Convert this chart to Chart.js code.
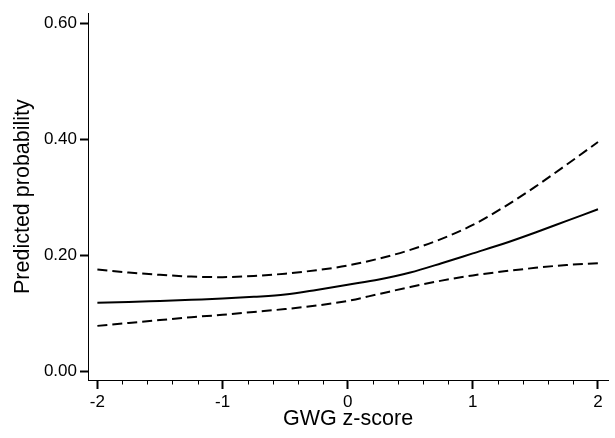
<!DOCTYPE html>
<html>
<head>
<meta charset="utf-8">
<script src="https://cdn.jsdelivr.net/npm/chart.js@4/dist/chart.umd.min.js"></script>
<style>
  html, body { margin: 0; padding: 0; background: #fff; }
  #wrap { width: 615px; height: 438px; }
</style>
</head>
<body>
<div id="wrap"><canvas id="c" width="615" height="438"></canvas></div>
<script>
// Data
const zScores   = [-2, -1.75, -1.5, -1.25, -1, -0.75, -0.5, -0.25, 0, 0.25, 0.5, 0.75, 1, 1.25, 1.5, 1.75, 2];
const predicted = [0.118, 0.119, 0.121, 0.123, 0.125, 0.128, 0.132, 0.140, 0.149, 0.158, 0.170, 0.186, 0.203, 0.220, 0.239, 0.259, 0.279];
const upperCI   = [0.175, 0.170, 0.166, 0.163, 0.162, 0.164, 0.168, 0.174, 0.182, 0.194, 0.209, 0.228, 0.252, 0.283, 0.318, 0.356, 0.395];
const lowerCI   = [0.078, 0.083, 0.088, 0.093, 0.097, 0.102, 0.107, 0.113, 0.121, 0.133, 0.145, 0.156, 0.165, 0.172, 0.178, 0.183, 0.186];
const xTicks = [-2, -1, 0, 1, 2];
const xMinorTicks = [-1.8, -1.6, -1.4, -1.2, -0.8, -0.6, -0.4, -0.2, 0.2, 0.4, 0.6, 0.8, 1.2, 1.4, 1.6, 1.8];
const yTicks = [0, 0.2, 0.4, 0.6];
const xTitle = 'GWG z-score';
const yTitle = 'Predicted probability';

const toPts = arr => zScores.map((x, i) => ({x: x, y: arr[i]}));
const FONT = '"Liberation Sans", Arial, sans-serif';

const minorTicks = {
  id: 'minorTicks',
  afterDraw(chart) {
    const xs = chart.scales.x;
    const ctx = chart.ctx;
    const y0 = chart.chartArea.bottom;
    ctx.save();
    ctx.strokeStyle = '#000';
    ctx.lineWidth = 1;
    xMinorTicks.forEach(v => {
      const px = Math.round(xs.getPixelForValue(v)) + 0.5;
      ctx.beginPath();
      ctx.moveTo(px, y0);
      ctx.lineTo(px, y0 + 4.5);
      ctx.stroke();
    });
    ctx.restore();
  }
};

const lineStyle = (dashed) => ({
  borderColor: '#000', borderWidth: 2, borderDash: dashed ? [10, 5] : [],
  pointRadius: 0, cubicInterpolationMode: 'monotone', fill: false
});

new Chart(document.getElementById('c'), {
  type: 'line',
  data: {
    datasets: [
      Object.assign({ data: toPts(upperCI) }, lineStyle(true)),
      Object.assign({ data: toPts(predicted) }, lineStyle(false)),
      Object.assign({ data: toPts(lowerCI) }, lineStyle(true))
    ]
  },
  options: {
    responsive: false,
    animation: false,
    events: [],
    layout: { padding: { left: 0, right: 7, top: 9, bottom: 0 } },
    plugins: { legend: { display: false }, tooltip: { enabled: false } },
    scales: {
      x: {
        type: 'linear',
        min: -2.075,
        max: 2.08,
        afterFit: s => { s.height = 58; },
        afterBuildTicks: s => { s.ticks = xTicks.map(v => ({ value: v })); },
        grid: { drawOnChartArea: false, drawTicks: true, tickLength: 9, tickWidth: 2, tickColor: '#000' },
        border: { display: true, color: '#000', width: 1 },
        ticks: {
          color: '#000',
          font: { family: FONT, size: 17 },
          padding: 3,
          maxRotation: 0,
          callback: v => String(v)
        },
        title: {
          display: true,
          text: xTitle,
          color: '#000',
          font: { family: FONT, size: 21.5 },
          padding: { top: 0, bottom: 5.6 }
        }
      },
      y: {
        type: 'linear',
        min: -0.0153,
        max: 0.617,
        afterFit: s => { s.width = 88; },
        afterBuildTicks: s => { s.ticks = yTicks.map(v => ({ value: v })); },
        grid: { drawOnChartArea: false, drawTicks: true, tickLength: 8, tickWidth: 2, tickColor: '#000' },
        border: { display: true, color: '#000', width: 1 },
        ticks: {
          color: '#000',
          font: { family: FONT, size: 17 },
          padding: 3,
          callback: v => Number(v).toFixed(2)
        },
        title: {
          display: true,
          text: yTitle,
          color: '#000',
          font: { family: FONT, size: 21.5 },
          padding: { top: 10, bottom: 0 }
        }
      }
    }
  },
  plugins: [minorTicks]
});
</script>
</body>
</html>
